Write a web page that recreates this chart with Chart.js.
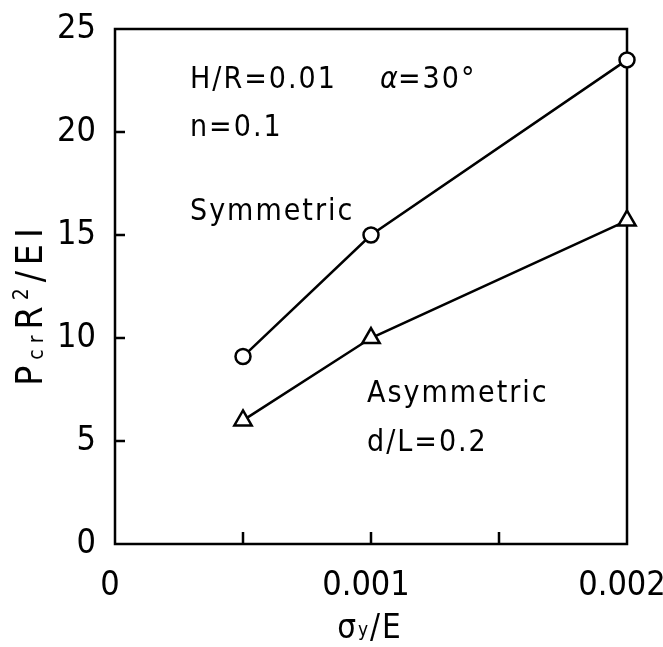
<!DOCTYPE html>
<html><head><meta charset="utf-8">
<script src="https://cdn.jsdelivr.net/npm/chart.js@4"></script>
<style>html,body{margin:0;padding:0;background:#fff}#wrap{width:663px;height:647px}</style>
</head><body><div id="wrap"><canvas id="c" width="663" height="647"></canvas></div>
<script>
const xValues = [0.0005, 0.001, 0.002];
const symmetricValues = [9.1, 15.0, 23.5];
const asymmetricValues = [6.0, 10.0, 15.7];
const xTickValues = [0, 0.001, 0.002];
const xTickLabels = ['0', '0.001', '0.002'];
const xMinorTicks = [0.0005, 0.001, 0.0015];
const yInnerTicks = [5, 10, 15, 20];

const FONT = "'DejaVu Sans Condensed','Liberation Sans Narrow','DejaVu Sans',sans-serif";
const TICKFONT = "'Liberation Sans Narrow','DejaVu Sans Condensed','DejaVu Sans',sans-serif";

function pts(ys){ return xValues.map((x,i)=>({x:x, y:ys[i]})); }

function drawRich(ctx, parts, x, y, spacing){
  let total = 0;
  ctx.letterSpacing = (spacing||0)+'px';
  parts.forEach(p=>{ ctx.font = (p.style||'')+' '+p.size+'px '+FONT; p.w = ctx.measureText(p.t).width; total += p.w; });
  let cx = x - total/2;
  ctx.textAlign='left'; ctx.textBaseline='alphabetic';
  parts.forEach(p=>{ ctx.font = (p.style||'')+' '+p.size+'px '+FONT; ctx.fillText(p.t, cx, y + (p.dy||0)); cx += p.w; });
}

function txt(ctx, s, x, y, size, spacing, style){
  ctx.font = (style||'')+' '+size+'px '+FONT;
  ctx.letterSpacing = (spacing||0)+'px';
  ctx.textAlign='left'; ctx.textBaseline='alphabetic';
  ctx.fillText(s, x, y);
}

const decor = {
  id:'decor',
  beforeDatasetsDraw(chart){
    const {ctx, chartArea:a, scales} = chart;
    ctx.save();
    ctx.strokeStyle='#000'; ctx.lineWidth=2.5;
    ctx.strokeRect(a.left, a.top, a.right-a.left, a.bottom-a.top);
    ctx.beginPath();
    yInnerTicks.forEach(v=>{ const y=scales.y.getPixelForValue(v); ctx.moveTo(a.left,y); ctx.lineTo(a.left+10,y); });
    xMinorTicks.forEach(v=>{ const x=scales.x.getPixelForValue(v); ctx.moveTo(x,a.bottom); ctx.lineTo(x,a.bottom-12); });
    ctx.stroke();
    ctx.restore();
  },
  afterDraw(chart){
    const {ctx} = chart;
    ctx.save();
    ctx.fillStyle='#000';
    txt(ctx, 'H/R=0.01', 190, 88, 30, 2);
    txt(ctx, '\u03B1', 380, 88, 30, 0, 'italic');
    txt(ctx, '=30\u00B0', 398, 88, 30, 2);
    txt(ctx, 'n=0.1', 190, 136, 30, 2);
    txt(ctx, 'Symmetric', 190, 220, 30, 2);
    txt(ctx, 'Asymmetric', 367, 402, 30, 2);
    txt(ctx, 'd/L=0.2', 367, 451, 30, 2);
    // x title
    drawRich(ctx, [{t:'\u03C3',size:33},{t:'y',size:19,dy:-2},{t:'/E',size:33}], 370, 638, 2);
    // y title
    ctx.translate(42, 304);
    ctx.rotate(-Math.PI/2);
    drawRich(ctx, [{t:'P',size:37},{t:'cr',size:21,dy:1},{t:'R',size:37},{t:'2',size:21,dy:-14},{t:'/EI',size:37}], 0, 0, 6);
    ctx.restore();
  }
};

new Chart(document.getElementById('c'), {
  type:'scatter',
  data:{ datasets:[
    { label:'Symmetric', data:pts(symmetricValues), showLine:true, borderColor:'#000', borderWidth:2.5,
      pointStyle:'circle', pointRadius:7.5, pointBorderWidth:2.5, pointBackgroundColor:'#fff', pointBorderColor:'#000', clip:false },
    { label:'Asymmetric', data:pts(asymmetricValues), showLine:true, borderColor:'#000', borderWidth:2.5,
      pointStyle:'triangle', pointRadius:10, pointBorderWidth:2.5, pointBackgroundColor:'#fff', pointBorderColor:'#000', clip:false }
  ]},
  options:{
    responsive:false, animation:false,
    layout:{ padding:{ top:29, right:36, left:0, bottom:0 } },
    plugins:{ legend:{display:false}, tooltip:{enabled:false} },
    scales:{
      x:{ type:'linear', min:0, max:0.002,
        grid:{display:false, drawTicks:false}, border:{display:false},
        afterFit(s){ s.height = 103; s.paddingLeft = 0; s.paddingRight = 0; },
        ticks:{ stepSize:0.0005, autoSkip:false, maxRotation:0, padding:22, labelOffset:-5, color:'#000',
          font:{family:TICKFONT, size:34},
          callback(v){ const i = xTickValues.findIndex(t=>Math.abs(t-v)<1e-9); return i>=0 ? xTickLabels[i] : ''; } } },
      y:{ type:'linear', min:0, max:25,
        grid:{display:false, drawTicks:false}, border:{display:false},
        afterFit(s){ s.width = 115; s.paddingTop = 0; s.paddingBottom = 0; },
        ticks:{ stepSize:5, padding:19, color:'#000', font:{family:TICKFONT, size:34} } }
    }
  },
  plugins:[decor]
});
</script>
</body></html>
